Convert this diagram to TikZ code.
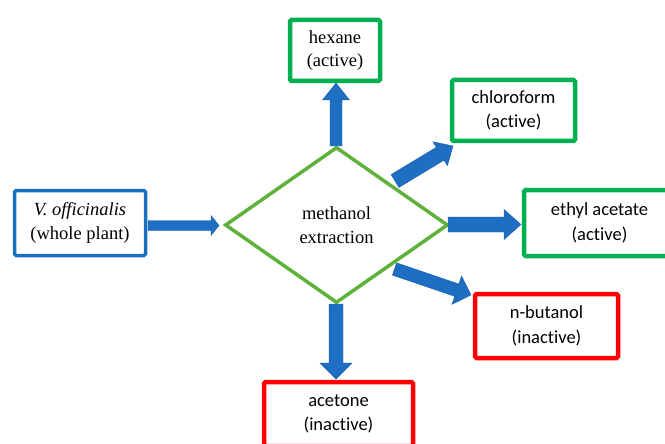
\documentclass[tikz,border=0pt]{standalone}
\usepackage{fontspec}
\setmainfont{Liberation Serif}
\newfontfamily\calfont[Ligatures={NoCommon}]{Carlito}
\usetikzlibrary{calc,shapes.geometric}
\definecolor{boxblue}{HTML}{1A70C0}
\definecolor{arrowblue}{HTML}{1E6EC3}
\definecolor{boxgreen}{HTML}{00B050}
\definecolor{diagreen}{HTML}{5EB23A}
\definecolor{boxred}{HTML}{FF0000}
\tikzset{
  box/.style={rectangle, draw, line width=4.5pt, rounded corners=1.5pt, inner sep=0pt, align=center,
    font=\fontsize{18.5}{23.5}\selectfont},
  sansbox/.style={box, font=\calfont\fontsize{18.5}{24.5}\selectfont},
  greenbox/.style={draw=boxgreen},
  redbox/.style={draw=boxred},
  srcbox/.style={box, draw=boxblue, line width=3.5pt},
  diabox/.style={diamond, draw=diagreen, line width=3.5pt, inner sep=0pt, align=center,
    font=\fontsize{18.5}{23.5}\selectfont},
  barrow/.style={fill=arrowblue, draw=arrowblue!85!black, line width=0.4pt, line join=miter},
}
% #1 name, #2 start, #3 end, #4 half shaft, #5 half head, #6 head length
\newcommand\blockarrow[6]{%
  \coordinate (#1-h) at ($(#3)!#6!(#2)$);
  \path[barrow] ($(#2)!#4!90:(#3)$) -- ($(#1-h)!#4!90:(#3)$) -- ($(#1-h)!#5!90:(#3)$)
    -- (#3) -- ($(#1-h)!#5!-90:(#3)$) -- ($(#1-h)!#4!-90:(#3)$) -- ($(#2)!#4!-90:(#3)$) -- cycle;
}
\begin{document}
\begin{tikzpicture}[x=1pt,y=-1pt]
\useasboundingbox (0,0) rectangle (665,444);
\clip (0,0) rectangle (665,444);

\node[srcbox, minimum width=131pt, minimum height=65pt] (src) at (80,223) {\textit{V. officinalis}\\(whole plant)};
\node[diabox, minimum width=223pt, minimum height=156pt] (dia) at (336.5,225) {methanol\\extraction};
\node[box, greenbox, minimum width=90pt, minimum height=61pt] (hex) at (335,50.5) {hexane\\(active)};
\node[sansbox, greenbox, minimum width=123pt, minimum height=61pt] (chl) at (513.5,110.5) {chloroform\\(active)};
\node[sansbox, greenbox, minimum width=151pt, minimum height=66pt] (eth) at (599.5,223) {ethyl acetate\\(active)};
\node[sansbox, redbox, minimum width=143pt, minimum height=64pt] (but) at (546.5,326) {n-butanol\\(inactive)};
\node[sansbox, redbox, minimum width=149pt, minimum height=64pt] (ace) at (338.5,414) {acetone\\(inactive)};

% arrow end points
\coordinate (a1s) at (148,225.5);   \coordinate (a1e) at (219,225.5);
\coordinate (a2s) at (336,146);     \coordinate (a2e) at (336,83);
\coordinate (a3s) at (395,181);     \coordinate (a3e) at (453,146);
\coordinate (a4s) at (448,224.5);   \coordinate (a4e) at (521,224.5);
\coordinate (a5s) at (394.5,269);   \coordinate (a5e) at (471,295);
\coordinate (a6s) at (336,304);     \coordinate (a6e) at (336,379);

\blockarrow{a1}{a1s}{a1e}{5pt}{10pt}{8pt}
\blockarrow{a2}{a2s}{a2e}{6pt}{13.5pt}{17pt}
\blockarrow{a3}{a3s}{a3e}{7.5pt}{14pt}{15pt}
\blockarrow{a4}{a4s}{a4e}{7.5pt}{15pt}{17pt}
\blockarrow{a5}{a5s}{a5e}{6.5pt}{15pt}{15pt}
\blockarrow{a6}{a6s}{a6e}{7pt}{16pt}{16pt}
\end{tikzpicture}
\end{document}
